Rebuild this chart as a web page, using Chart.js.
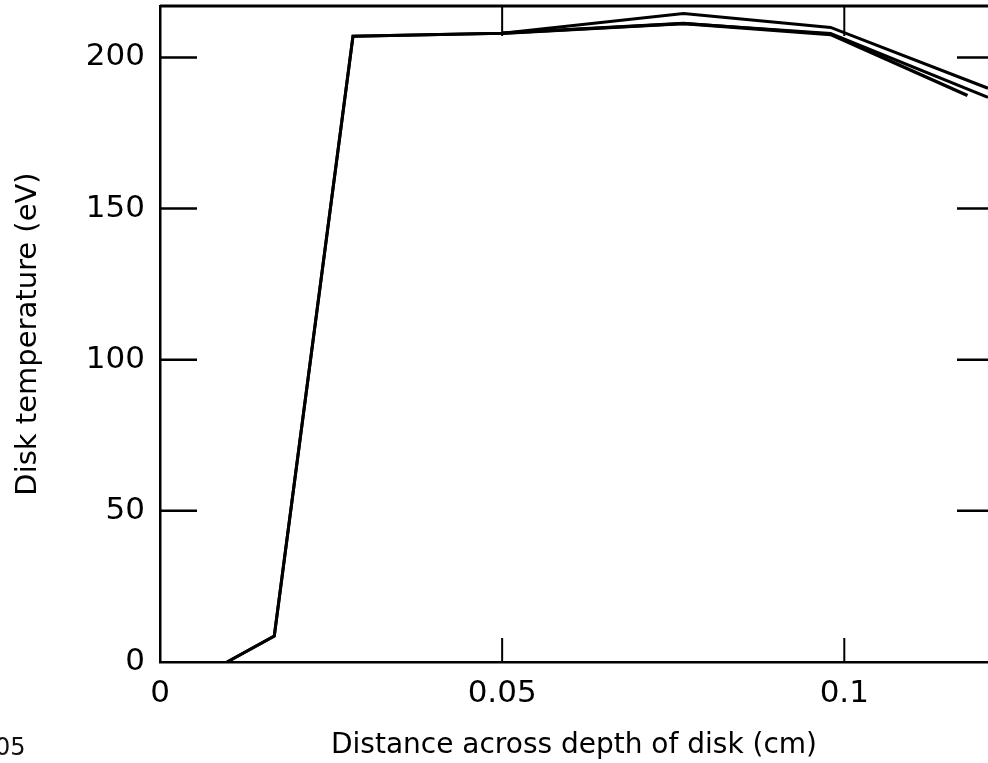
<!DOCTYPE html>
<html>
<head>
<meta charset="utf-8">
<script src="https://cdn.jsdelivr.net/npm/chart.js@4.4.0/dist/chart.umd.min.js"></script>
<style>
  body { margin: 0; background: #fff; }
  #wrap { position: relative; width: 988px; height: 763px; overflow: hidden; }
  #fig { position: absolute; left: -5px; top: 733px; font: 24px "DejaVu Sans", sans-serif; color: #111; }
</style>
</head>
<body>
<div id="wrap">
  <canvas id="chart"></canvas>
  <div id="fig">05</div>
</div>
<script>
// tick values
const xTickValues = [0, 0.05, 0.1];
const yTickValues = [0, 50, 100, 150, 200];

// curves (distance in cm, temperature in eV)
const upperX = [0.0098, 0.0167, 0.0282, 0.05, 0.0765, 0.098, 0.121];
const upperY = [0, 8.6, 207, 208, 214.5, 209.9, 189.8];
const middleX = [0.0098, 0.0167, 0.0282, 0.05, 0.0765, 0.098, 0.121];
const middleY = [0, 8.6, 207, 208, 211.2, 207.9, 186.8];
const lowerX = [0.05, 0.0765, 0.098, 0.118];
const lowerY = [208, 211.2, 207.6, 187.4];

function toPoints(xs, ys) {
    return xs.map((x, i) => ({ x: x, y: ys[i] }));
}

const FONT = '"DejaVu Sans", sans-serif';

// inward tick marks + top frame line
const frameTicks = {
    id: 'frameTicks',
    afterDraw(chart) {
        const ctx = chart.ctx;
        const a = chart.chartArea;
        const xs = chart.scales.x, ys = chart.scales.y;
        ctx.save();
        ctx.strokeStyle = '#000';
        ctx.lineWidth = 3;
        ctx.beginPath();
        ctx.moveTo(a.left, a.top);
        ctx.lineTo(a.right, a.top);
        ctx.stroke();
        ctx.lineWidth = 2.5;
        yTickValues.forEach(v => {
            if (v === 0) return;
            const py = ys.getPixelForValue(v);
            ctx.beginPath();
            ctx.moveTo(a.left, py);
            ctx.lineTo(a.left + 37, py);
            ctx.moveTo(a.right, py);
            ctx.lineTo(a.right - 31, py);
            ctx.stroke();
        });
        ctx.lineWidth = 2;
        xTickValues.forEach(v => {
            if (v === 0) return;
            const px = xs.getPixelForValue(v);
            ctx.beginPath();
            ctx.moveTo(px, a.top);
            ctx.lineTo(px, a.top + 30);
            ctx.moveTo(px, a.bottom);
            ctx.lineTo(px, a.bottom - 24);
            ctx.stroke();
        });
        ctx.restore();
    }
};

new Chart(document.getElementById('chart'), {
    type: 'scatter',
    data: {
        datasets: [
            { data: toPoints(upperX, upperY), borderWidth: 3 },
            { data: toPoints(middleX, middleY), borderWidth: 3 },
            { data: toPoints(lowerX, lowerY), borderWidth: 3.5 }
        ].map(d => Object.assign(d, {
            showLine: true,
            borderColor: '#000',
            pointRadius: 0,
            tension: 0
        }))
    },
    options: {
        responsive: true,
        maintainAspectRatio: false,
        animation: false,
        layout: { padding: { top: 6, right: 0, left: 0, bottom: 0 } },
        plugins: { legend: { display: false }, tooltip: { enabled: false } },
        scales: {
            x: {
                type: 'linear',
                min: 0,
                max: 0.121,
                afterBuildTicks: s => { s.ticks = xTickValues.map(v => ({ value: v })); },
                afterFit: s => { s.height = 101; s.paddingLeft = 0; s.paddingRight = 0; },
                grid: { display: false },
                border: { display: true, color: '#000', width: 2.5 },
                ticks: {
                    color: '#000',
                    padding: 5,
                    maxRotation: 0,
                    font: { family: FONT, size: 31 },
                    callback: v => String(v)
                },
                title: {
                    display: true,
                    text: 'Distance across depth of disk (cm)',
                    color: '#000',
                    font: { family: FONT, size: 28 },
                    padding: { top: 0, bottom: 0 }
                }
            },
            y: {
                type: 'linear',
                min: 0,
                max: 217,
                afterBuildTicks: s => { s.ticks = yTickValues.map(v => ({ value: v })); },
                afterFit: s => { s.width = 160; s.paddingTop = 0; s.paddingBottom = 0; },
                grid: { display: false },
                border: { display: true, color: '#000', width: 2.5 },
                ticks: {
                    color: '#000',
                    padding: 7,
                    font: { family: FONT, size: 31 },
                    callback: v => String(v)
                },
                title: {
                    display: true,
                    text: 'Disk temperature (eV)',
                    color: '#000',
                    font: { family: FONT, size: 29 },
                    padding: { top: 11, bottom: 0 }
                }
            }
        }
    },
    plugins: [frameTicks]
});
</script>
</body>
</html>
